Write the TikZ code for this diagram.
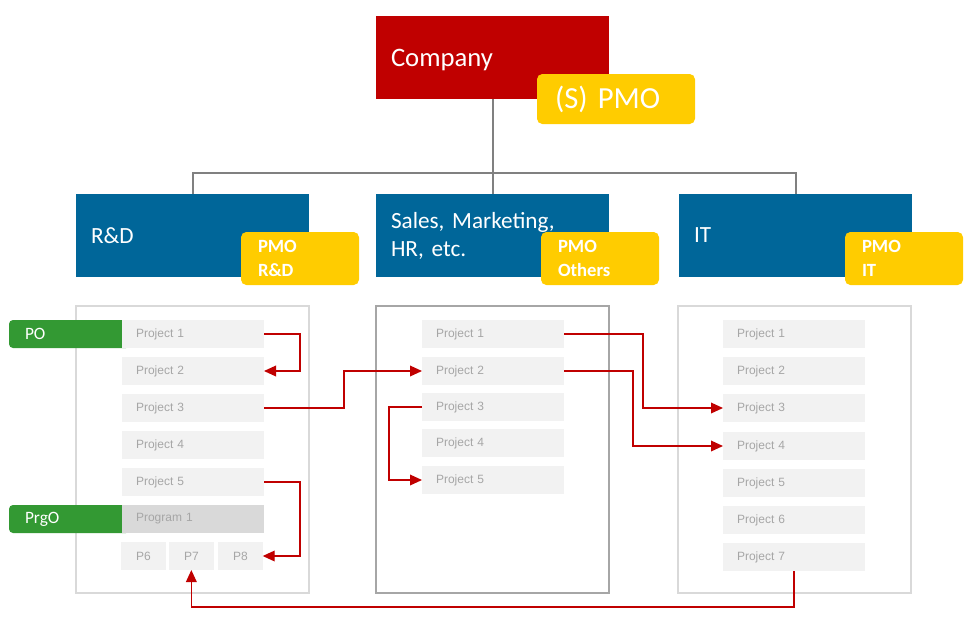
\documentclass[tikz,border=0pt]{standalone}
\usepackage{fontspec}
\setmainfont{Carlito}
\newfontfamily\arialf{Liberation Sans}
\usetikzlibrary{arrows.meta}
\frenchspacing
\newcommand\tightsp{\spaceskip=0.2em\relax}
\definecolor{cred}{HTML}{C00000}
\definecolor{cyellow}{HTML}{FFCC00}
\definecolor{cblue}{HTML}{006699}
\definecolor{cgreen}{HTML}{339933}
\definecolor{cproj}{HTML}{F2F2F2}
\definecolor{cprog}{HTML}{D9D9D9}
\definecolor{ctext}{HTML}{A6A6A6}
\definecolor{cline}{HTML}{808080}
\definecolor{clight}{HTML}{D9D9D9}
\definecolor{cdark}{HTML}{A6A6A6}
\begin{document}
\begin{tikzpicture}[x=0.75pt,y=-0.75pt,
  sz/.style n args={3}{minimum width={#1*0.75pt}, minimum height={#2*0.75pt}, inner xsep={#3*0.75pt}, text width={(#1-2*#3)*0.75pt}},
  base/.style={anchor=north west, inner ysep=0pt, outer sep=0pt, align=left},
  head/.style={base, fill=cred, text=white, font=\fontsize{20}{24}\selectfont\tightsp, sz={233}{83}{15}},
  spmo/.style={base, fill=cyellow, text=white, rounded corners=4pt, font=\fontsize{23}{27}\selectfont\tightsp, sz={158}{50}{18}},
  dept/.style={base, fill=cblue, text=white, font=\fontsize{17.4}{21}\selectfont\tightsp, sz={233}{83}{15}},
  pmo/.style={base, fill=cyellow, text=white, rounded corners=4pt, font=\bfseries\fontsize{14}{18}\selectfont, sz={118}{53}{17}},
  owner/.style={base, fill=cgreen, text=white, rounded corners=3pt, font=\fontsize{13}{15}\selectfont, sz={121}{28}{16}},
  proj/.style={base, fill=cproj, text=ctext, font=\arialf\fontsize{9}{11}\selectfont, sz={142}{28}{14}},
  prog/.style={proj, fill=cprog},
  subp/.style={base, fill=cproj, text=ctext, font=\arialf\fontsize{9}{11}\selectfont, align=center, sz={44.7}{28}{2}},
  cont/.style={base, draw=#1, line width=0.8pt, sz={233}{287}{0}},
  org/.style={draw=cline, line width=1.5pt},
  arr/.style={draw=cred, line width=1pt, -{Triangle[length=9pt,width=8pt]}}
]
\useasboundingbox (0,0) rectangle (971,625);

% top level
\node[head] (company) at (376,16) {\raisebox{-2pt}[\height][\depth]{Company}};
\node[spmo] (spmo) at (537,74) {(S) PMO};

% departments
\node[dept] (rd) at (76,194) {R\&D};
\node[dept] (sales) at (376,194) {Sales, Marketing,\\HR, etc.};
\node[dept] (it) at (679,194) {IT};
\node[pmo] (pmord) at (241,232) {PMO\\R\&D};
\node[pmo] (pmoot) at (541,232) {PMO\\Others};
\node[pmo] (pmoit) at (845,232) {PMO\\IT};

% org lines
\draw[org] (company.south) -- (sales.north);
\draw[org] (rd.north) -- ++(0,-21) -| (it.north);

% containers
\node[cont=clight] (lc) at (76,306) {};
\node[cont=cdark] (mc) at (376,306) {};
\node[cont=clight] (rc) at (678,306) {};

% owners
\node[owner] (po) at (9,320) {PO};
\node[owner] (prgo) at (9,505) {PrgO};

% left projects
\node[proj] (l1) at (122,320) {Project 1};
\node[proj] (l2) at (122,357) {Project 2};
\node[proj] (l3) at (122,394) {Project 3};
\node[proj] (l4) at (122,431) {Project 4};
\node[proj] (l5) at (122,468) {Project 5};
\node[prog] (lp) at (122,505) {Program 1};
\node[subp] (p6) at (121,542) {P6};
\node[subp] (p7) at (169,542) {P7};
\node[subp] (p8) at (218,542) {P8};

% middle projects
\node[proj] (m1) at (422,320) {Project 1};
\node[proj] (m2) at (422,357) {Project 2};
\node[proj] (m3) at (422,393) {Project 3};
\node[proj] (m4) at (422,429) {Project 4};
\node[proj] (m5) at (422,466) {Project 5};

% right projects
\node[proj] (r1) at (723,320) {Project 1};
\node[proj] (r2) at (723,357) {Project 2};
\node[proj] (r3) at (723,394) {Project 3};
\node[proj] (r4) at (723,432) {Project 4};
\node[proj] (r5) at (723,469) {Project 5};
\node[proj] (r6) at (723,506) {Project 6};
\node[proj] (r7) at (723,543) {Project 7};

% red arrows
\draw[arr] (l1.east) -- ++(36,0) |- (l2.east);
\draw[arr] (l3.east) -- ++(80,0) |- (m2.west);
\draw[arr] (l5.east) -- ++(36,0) |- (p8.east);
\draw[arr] (m1.east) -- ++(79,0) |- (r3.west);
\draw[arr] (m2.east) -- ++(69,0) |- (r4.west);
\draw[arr] (m3.west) -- ++(-33,0) |- (m5.west);
\draw[arr] (r7.south) -- ++(0,36) -| (p7.south);
\end{tikzpicture}
\end{document}
